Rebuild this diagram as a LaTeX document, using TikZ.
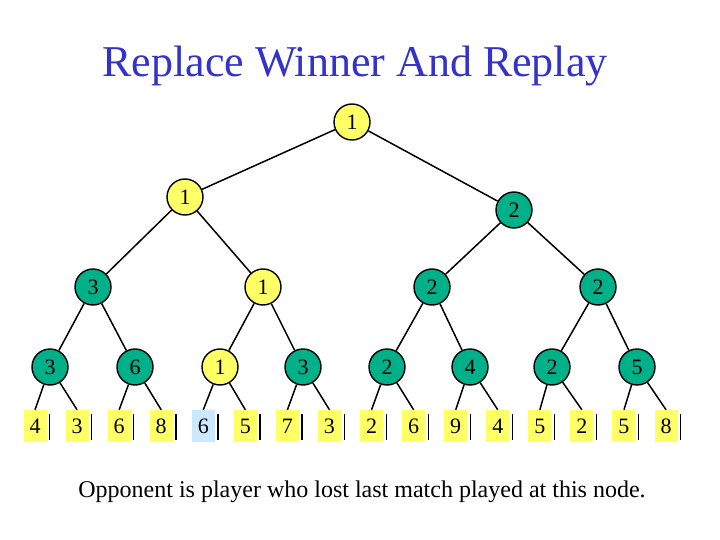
\documentclass[tikz,border=0pt]{standalone}
\usepackage{fontspec}
\setmainfont{Liberation Serif}
\definecolor{ylw}{RGB}{255,255,102}
\definecolor{grn}{RGB}{0,176,136}
\definecolor{lblue}{RGB}{204,232,255}
\definecolor{ttl}{RGB}{51,51,204}
\tikzset{
  pl/.style={circle,draw=black,line width=1.4pt,minimum size=36pt,inner sep=0pt,font=\fontsize{22}{22}\selectfont},
  yc/.style={pl,fill=ylw},
  gc/.style={pl,fill=grn},
  leaf/.style={rectangle,fill=ylw,minimum width=23pt,minimum height=32pt,inner sep=0pt,font=\fontsize{22}{22}\selectfont},
  edge/.style={line width=1.5pt,black},
  bar/.style={line width=1.3pt,black}
}
\begin{document}
\begin{tikzpicture}[x=1pt,y=-1pt]
\useasboundingbox (0,0) rectangle (720,540);
\fill[white] (0,0) rectangle (720,540);
\node[text=ttl,font=\fontsize{44}{44}\selectfont] (title) at (355,66) {Replace Winner And Replay};
% leaves
\foreach \v [count=\i from 0] in {4,3,6,8,6,5,7,3,2,6,9,4,5,2,5,8} {
  \pgfmathsetmacro{\xx}{35+42.07*\i}
  \node[leaf] (L\i) at (\xx,426) {\v};
  \draw[bar] ([xshift=3pt,yshift=-4pt]L\i.north east) -- ([xshift=3pt,yshift=2pt]L\i.south east);
}
\node[leaf,fill=lblue] at (L4) {6};
% level 3
\node[gc] (c0) at (50,367) {3};
\node[gc] (c1) at (135,367) {6};
\node[yc] (c2) at (220,367) {1};
\node[gc] (c3) at (303,367) {3};
\node[gc] (c4) at (387,367) {2};
\node[gc] (c5) at (470,367) {4};
\node[gc] (c6) at (552,367) {2};
\node[gc] (c7) at (637,367) {5};
% level 2
\node[gc] (b0) at (93,287) {3};
\node[yc] (b1) at (263,287) {1};
\node[gc] (b2) at (432,287) {2};
\node[gc] (b3) at (598,287) {2};
% level 1
\node[yc] (a0) at (185,197) {1};
\node[gc] (a1) at (514,210) {2};
% root
\node[yc] (r) at (352,122) {1};
% edges
\draw[edge] (r) -- (a0);
\draw[edge] (r) -- (a1);
\draw[edge] (a0) -- (b0);
\draw[edge] (a0) -- (b1);
\draw[edge] (a1) -- (b2);
\draw[edge] (a1) -- (b3);
\draw[edge] (b0) -- (c0);
\draw[edge] (b0) -- (c1);
\draw[edge] (b1) -- (c2);
\draw[edge] (b1) -- (c3);
\draw[edge] (b2) -- (c4);
\draw[edge] (b2) -- (c5);
\draw[edge] (b3) -- (c6);
\draw[edge] (b3) -- (c7);
\foreach \k in {0,...,7} {
  \pgfmathtruncatemacro{\l}{2*\k}
  \pgfmathtruncatemacro{\m}{2*\k+1}
  \draw[edge] (c\k) -- (L\l.north);
  \draw[edge] (c\k) -- (L\m.north);
}
\node[font=\fontsize{24}{24}\selectfont] (note) at (362,492) {Opponent is player who lost last match played at this node.};
\end{tikzpicture}
\end{document}
